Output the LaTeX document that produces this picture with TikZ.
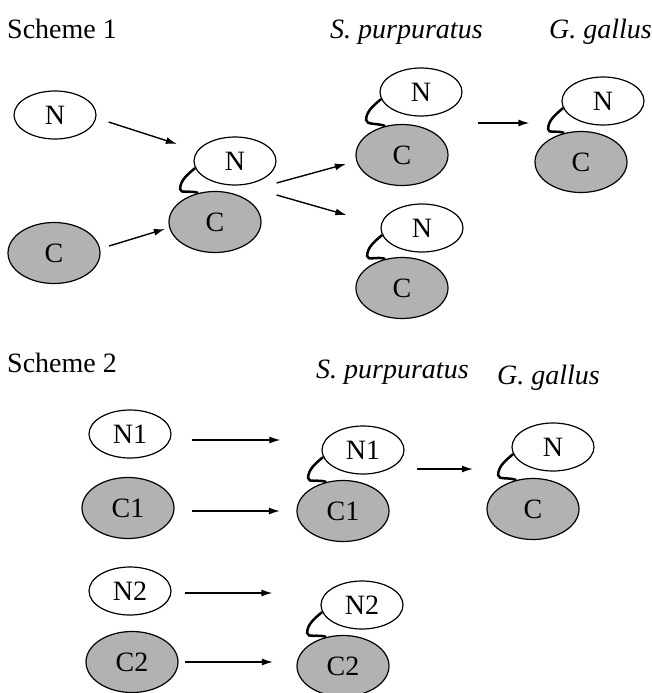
\documentclass[tikz,border=0pt]{standalone}
\usepackage{fontspec}
\setmainfont{Liberation Serif}
\usetikzlibrary{shapes.geometric,arrows.meta}
\definecolor{cgray}{gray}{0.7}
\tikzset{
  nbox/.style={draw,ellipse,minimum width=82,minimum height=48,inner sep=0pt,line width=1.2},
  cbox/.style={nbox,fill=cgray,minimum width=92,minimum height=61},
  linker/.style={line width=2.5},
  arr/.style={-{Latex[length=11,width=7]},line width=1.4},
  head/.style={anchor=base west,inner sep=0pt},
}
\begin{document}
\begin{tikzpicture}[x=1pt,y=-1pt,font=\fontsize{28}{31}\selectfont]
\useasboundingbox (0,0) rectangle (652,693);
% scheme 1
\node[head] (h1) at (7,38) {Scheme 1};
\node[head] (sp1) at (330,38) {\itshape S. purpuratus};
\node[head] (gg1) at (549,38) {\itshape G. gallus};
\node[nbox] (nA) at (55,115) {N};
\node[cbox] (cA) at (54,253) {C};
\node[nbox] (mN) at (235,161) {N};
\node[cbox] (mC) at (215,222) {C};
\node[nbox] (sN) at (421,92) {N};
\node[cbox] (sC) at (402,155) {C};
\node[nbox] (tN) at (422,228) {N};
\node[cbox] (tC) at (402,288) {C};
\node[nbox] (gN) at (603,101) {N};
\node[cbox] (gC) at (581,162) {C};
\draw[arr] ([shift={(12,7)}]nA.east) -- ([shift={(-16.5,-17)}]mN.west);
\draw[arr] ([shift={(8.5,-7)}]cA.east) -- ([shift={(-3.5,7)}]mC.west);
\draw[arr] ([shift={(0,22)}]mN.east) -- ([shift={(-9.5,9)}]sC.west);
\draw[arr] ([shift={(0,34)}]mN.east) -- ([shift={(-34,-13)}]tN.west);
\draw[arr] ([shift={(15,31)}]sN.east) -- ([shift={(-32,22)}]gN.west);
% scheme 2
\node[head] (h2) at (7,372) {Scheme 2};
\node[head] (sp2) at (316,378) {\itshape S. purpuratus};
\node[head] (gg2) at (497,384) {\itshape G. gallus};
\node[nbox] (n1) at (130,434) {N1};
\node[cbox] (c1) at (128,508) {C1};
\node[nbox] (n2) at (130,591) {N2};
\node[cbox] (c2) at (132,662) {C2};
\node[nbox] (sn1) at (363,450) {N1};
\node[cbox] (sc1) at (343,511) {C1};
\node[nbox] (sn2) at (362,605) {N2};
\node[cbox] (sc2) at (343,666) {C2};
\node[nbox] (gn) at (553,447) {N};
\node[cbox] (gc) at (533,509) {C};
\draw[arr] ([shift={(20,6)}]n1.east) -- ([shift={(-41,-10)}]sn1.west);
\draw[arr] ([shift={(17.5,3)}]c1.east) -- ([shift={(-16.5,0)}]sc1.west);
\draw[arr] ([shift={(13,2)}]n2.east) -- ([shift={(-48,-12)}]sn2.west);
\draw[arr] ([shift={(6.5,0)}]c2.east) -- ([shift={(-23.5,-4)}]sc2.west);
\draw[arr] ([shift={(12.5,19)}]sn1.east) -- ([shift={(-38.5,22)}]gn.west);
% linkers
\foreach \a/\b in {mN/mC,sN/sC,tN/tC,gN/gC,sn1/sc1,sn2/sc2,gn/gc}
  \draw[linker] (\a.190) .. controls +(-7,6) and +(0,-9) .. ++(-15,21) .. controls +(0,5) and +(-8,-3) .. (\b.120);
\end{tikzpicture}
\end{document}
